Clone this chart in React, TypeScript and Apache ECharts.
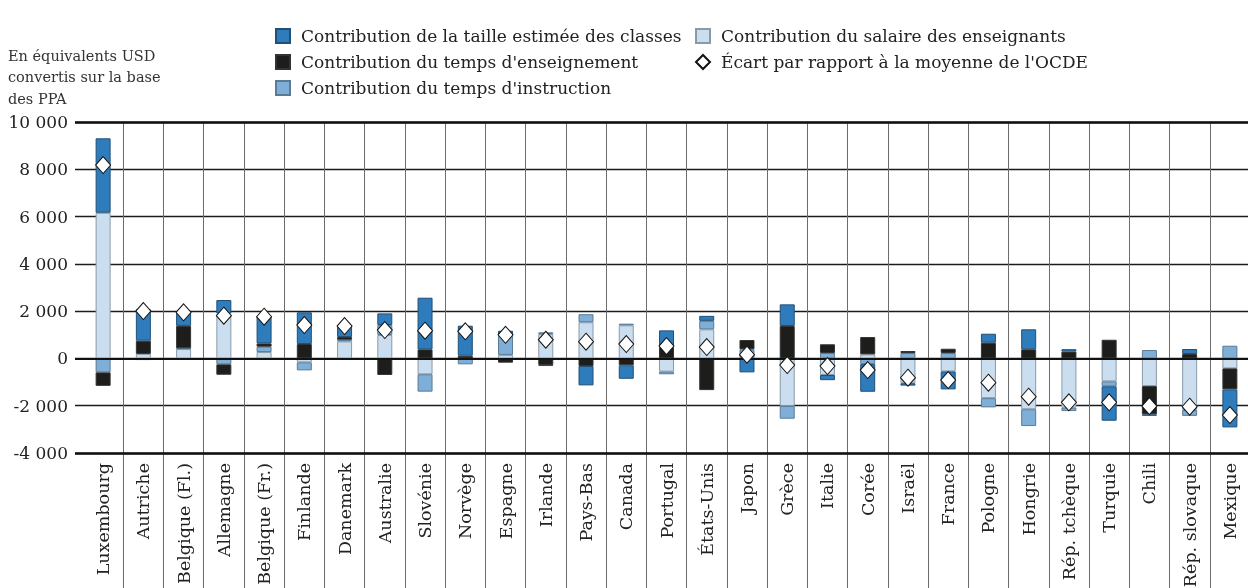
import React, { useEffect, useRef } from "react";
import * as echarts from "echarts";

const categories = [
  "Luxembourg", "Autriche", "Belgique (Fl.)", "Allemagne", "Belgique (Fr.)", "Finlande", "Danemark",
  "Australie", "Slovénie", "Norvège", "Espagne", "Irlande", "Pays-Bas", "Canada", "Portugal",
  "États-Unis", "Japon", "Grèce", "Italie", "Corée", "Israël", "France", "Pologne", "Hongrie",
  "Rép. tchèque", "Turquie", "Chili", "Rép. slovaque", "Mexique",
];

const salaire = [6160, 190, 400, 1900, 270, -165, 720, 990, -670, 0, 150, 1030, 1530, 1400, -560, 1230, 0, -2010, -700, 170, -1050, -550, -1680, -2150, -2085, -970, -1170, -2180, -420];
const instruction = [-590, -70, 30, -250, 225, -340, 70, 420, -735, -250, 840, 75, 340, 70, -110, 360, 385, -540, 230, -240, 228, 228, -390, -710, -140, -210, 355, -250, 537];
const enseignement = [-570, 560, 945, -440, 143, 610, 115, -700, 385, 114, -180, -280, -320, -290, 480, -1340, 393, 1370, 368, 735, 85, 182, 664, 385, 290, 790, -1195, 186, -890];
const taille = [3150, 1330, 600, 570, 1156, 1340, 466, 495, 2183, 1270, 180, -40, -820, -570, 707, 210, -590, 917, -220, -1170, -100, -760, 380, 846, 100, -1455, -60, 212, -1608];
const ecart = [8180, 2005, 1950, 1806, 1764, 1413, 1371, 1201, 1173, 1146, 1000, 790, 706, 609, 525, 482, 157, -279, -321, -490, -816, -914, -1025, -1620, -1857, -1857, -2014, -2043, -2394];

const yTicks = { min: -4000, max: 10000, interval: 2000 };

const NAME_TAILLE = "Contribution de la taille estimée des classes";
const NAME_SALAIRE = "Contribution du salaire des enseignants";
const NAME_ENS = "Contribution du temps d'enseignement";
const NAME_INSTR = "Contribution du temps d'instruction";
const NAME_ECART = "Écart par rapport à la moyenne de l'OCDE";

const FONT = "DejaVu Serif";

const fmt = (v: number) => {
  const s = Math.abs(v).toString().replace(/\B(?=(\d{3})+(?!\d))/g, " ");
  return (v < 0 ? "-" : "") + s;
};

export default function App() {
  const ref = useRef<HTMLDivElement>(null);
  useEffect(() => {
    if (!ref.current) return;
    const chart = echarts.init(ref.current, null, { renderer: "svg" });
    const skipFirst = (i: number) => i !== 0;
    const sep = { color: "#6b6b6b", width: 1 };
    const barBase = (name: string, data: number[], color: string, border: string) => ({
      name,
      type: "bar",
      stack: "total",
      xAxisIndex: 0,
      yAxisIndex: 0,
      barWidth: 15,
      data,
      itemStyle: { color, borderColor: border, borderWidth: 1 },
      z: 2,
    });
    const legendText = { fontFamily: FONT, fontSize: 17, color: "#222", lineHeight: 20, padding: [0, 0, 0, 6] };
    chart.setOption({
      animation: false,
      textStyle: { fontFamily: FONT },
      grid: [
        { left: 83, width: 1167, top: 122, height: 331, outerBoundsMode: "none", containLabel: false },
        { left: 75, width: 1175, top: 122, height: 331, outerBoundsMode: "none", containLabel: false },
        { left: 83, width: 1167, top: 453, height: 135, outerBoundsMode: "none", containLabel: false },
      ],
      legend: [
        {
          left: 270, top: 21, orient: "vertical", itemWidth: 14, itemHeight: 14, itemGap: 6,
          data: [
            { name: NAME_TAILLE, icon: "rect" },
            { name: NAME_ENS, icon: "rect" },
            { name: NAME_INSTR, icon: "rect" },
          ],
          textStyle: legendText,
        },
        {
          left: 690, top: 21, orient: "vertical", itemWidth: 14, itemHeight: 14, itemGap: 6,
          data: [
            { name: NAME_SALAIRE, icon: "rect" },
            { name: NAME_ECART, icon: "diamond" },
          ],
          textStyle: legendText,
        },
      ],
      xAxis: [
        {
          type: "category",
          gridIndex: 0,
          data: categories,
          axisLine: { show: false },
          axisTick: { show: false },
          splitLine: { show: true, interval: skipFirst, lineStyle: sep },
          axisLabel: { rotate: 90, interval: 0, margin: 10, fontFamily: FONT, fontSize: 17.5, color: "#222" },
        },
        { type: "value", gridIndex: 1, min: 0, max: 1, show: false },
        {
          type: "category",
          gridIndex: 2,
          data: categories,
          axisLine: { show: false },
          axisTick: { show: false },
          axisLabel: { show: false },
          splitLine: { show: true, interval: skipFirst, lineStyle: sep },
        },
      ],
      yAxis: [
        { type: "value", gridIndex: 0, ...yTicks, show: false, splitLine: { show: false } },
        {
          type: "value",
          gridIndex: 1,
          ...yTicks,
          axisLine: { show: false },
          axisTick: { show: false },
          splitLine: { show: true, lineStyle: { color: "#1a1a1a", width: 1.3 } },
          axisLabel: { margin: 7, fontFamily: FONT, fontSize: 17, color: "#222", formatter: fmt },
        },
        { type: "value", gridIndex: 2, show: false, splitLine: { show: false } },
      ],
      graphic: [
        {
          type: "text",
          left: 8,
          top: 45,
          style: {
            text: "En équivalents USD\nconvertis sur la base\ndes PPA",
            font: `14.5px "${FONT}"`,
            fill: "#333",
            lineHeight: 21.5,
          },
        },
      ],
      series: [
        barBase(NAME_SALAIRE, salaire, "#cadeef", "#8a9aa8"),
        barBase(NAME_INSTR, instruction, "#7eafd8", "#5b7a94"),
        barBase(NAME_ENS, enseignement, "#1d1d1b", "#333"),
        barBase(NAME_TAILLE, taille, "#2f7cbd", "#234f74"),
        {
          name: "lines",
          type: "line",
          xAxisIndex: 1,
          yAxisIndex: 1,
          data: [],
          z: 5,
          markLine: {
            silent: true,
            symbol: "none",
            label: { show: false },
            lineStyle: { color: "#111", type: "solid", width: 2.5 },
            data: [
              { yAxis: 10000 },
              { yAxis: 0, lineStyle: { width: 2.2, color: "#111", type: "solid" } },
              { yAxis: -4000 },
            ],
          },
        },
        {
          name: NAME_ECART,
          type: "scatter",
          xAxisIndex: 0,
          yAxisIndex: 0,
          data: ecart,
          symbol: "diamond",
          symbolSize: [15, 17],
          itemStyle: { color: "#fff", borderColor: "#111", borderWidth: 1, opacity: 1 },
          z: 10,
        },
      ],
    });
    return () => chart.dispose();
  }, []);
  return <div ref={ref} style={{ position: "fixed", left: 0, top: 0, width: 1248, height: 588 }} />;
}
